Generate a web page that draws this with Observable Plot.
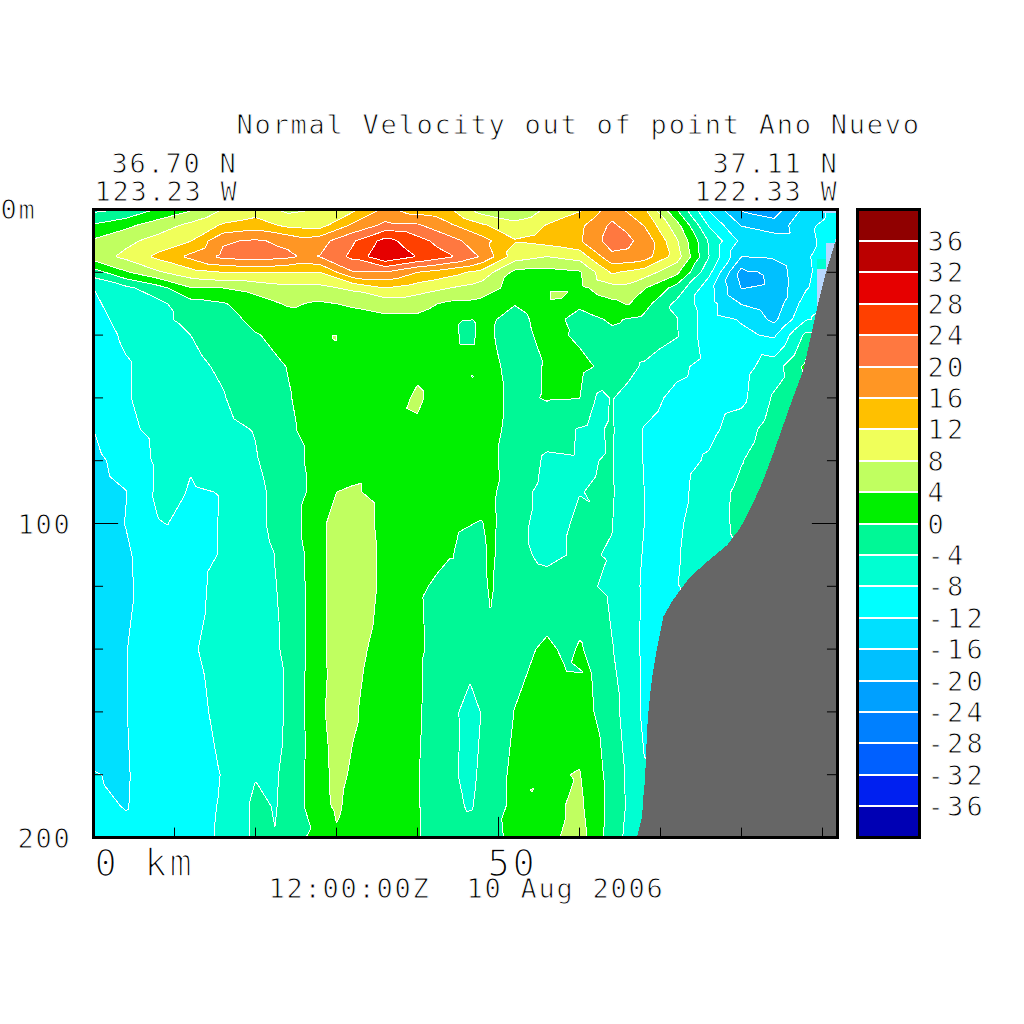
<!DOCTYPE html>
<html>
<head>
<meta charset="utf-8">
<script src="https://cdn.jsdelivr.net/npm/d3@7"></script>
<script src="https://cdn.jsdelivr.net/npm/@observablehq/plot@0.6"></script>
<style>
html,body{margin:0;padding:0;background:#fff}
#wrap{position:relative;width:1024px;height:1024px;overflow:hidden}
#wrap svg{position:absolute;left:0;top:0;background:transparent;overflow:visible}
text{font-family:"DejaVu Sans Mono",monospace}
.t18 text{letter-spacing:1.75px}
.t19 text{letter-spacing:3.2px}
.t25 text{letter-spacing:2.7px}
</style>
</head>
<body>
<div id="wrap"></div>
<script>
// Section columns (km along the section)
const km = [0,4,8,12,16,20,24,28,32,36,40,44,48,52,56,60,64,68,72,76,80,84,88,91.85];
// Velocity per depth (m), one value per km column
const r0   = [-5,-3.8,0.5,3.5,8.2,10,7,8.2,11,17,14,12.5,6,3.8,8.8,11.5,18,12.5,0,-12.5,-20.5,-22,-15,-10];
const r5   = [0.5,3,6,9,12.5,14,11,10.5,16.7,21,20.5,16.6,12.5,9.5,12.2,15,20.8,15.8,5.5,-8.5,-16.3,-18.5,-13,-10];
const r10  = [4.5,7,9.5,11.9,19.5,20.5,19,18.5,23.5,29.5,25.5,21.5,17.5,12.3,13.5,15.5,22,19,8.5,-4.5,-13,-13.5,-13.5,-9];
const r15  = [6,9,13,17,21,22,20.8,20.2,25,31.5,27.8,24.5,19.5,10,8,9.5,19,18,10,-4,-16,-15.5,-12.5,-9];
const r20  = [-2,3.5,7.5,10.5,12,12,12,12,19.7,19.8,16,13.5,10.5,3,2.5,3.5,12.5,10,5,-7,-21.5,-18.3,-12.7,-9];
const r25  = [-8,-5,-1.5,3.7,4,5.5,6.8,7,8.8,12,10,8,6,2.5,2.5,3,6.5,4.3,-1.5,-10.5,-20.2,-18.8,-12.3,-8];
const r30  = [-8.5,-6.5,-5,-1.5,-0.3,2,4.5,3.5,4.5,5.5,5.3,3.2,2.7,0.2,2.5,0.8,3,1.5,-5,-10.5,-16.2,-18.6,-10,-7];
const r35  = [-9,-7,-5,-2.8,-1.5,1,2,2.5,2.5,3.2,3.2,1.5,1.2,-1.5,1.8,-1.5,0.5,-1,-3.8,-10.5,-12.3,-17,-8.2,-7];
const r40  = [-9.5,-7.5,-6.5,-4,-2.5,-0.2,1,2,2.5,2,2,1.5,1.2,-2,1.5,-0.8,-0.8,-1.5,-3.7,-10.5,-11.3,-12.6,-3,-3];
const r50  = [-10,-8.3,-6.5,-4.8,-3.5,-1.5,0.1,1.5,2.5,2.5,3.3,2,2,-1.5,0.3,1.2,-1.5,-4.5,-7,-9.5,-9.5,-6,1,0];
const r60  = [-10.8,-8.3,-6.5,-5.5,-4.2,-2,-0.2,1.5,2.5,2.2,4.5,2,1.8,-1,0.3,0.1,-3.8,-6.5,-9,-10,-9,-3.5,0,0];
const r70  = [-12,-8.8,-7,-6,-5,-3.8,-0.5,1.5,2.5,3,3.5,2.5,1.5,-1,-2.5,-4.2,-3.7,-8.2,-10,-9,-6,-2,-1,-1];
const r80  = [-13,-10.5,-7.3,-7.6,-6,-4.3,-1.5,1.5,2.5,3,3,2,1.5,-1.5,-4.6,-4.3,-3.8,-8.2,-9.5,-7.5,-4.2,-1,0,0];
const r90  = [-13.5,-12.1,-7.2,-8.4,-7.85,-5,-2,1.5,4.4,3,2,1,1,-2.8,-5,-4.05,-3.7,-8,-9.2,-6,-3,-1,-1,-1];
const r100 = [-14,-11.9,-8.15,-9,-7.8,-5,-2,2.8,6,3,1.5,0.3,-0.1,-3.2,-5,-3.6,-3.9,-8,-8.6,-5.8,-3,-1,-1,-1];
const r110 = [-14,-12.5,-9.8,-8.9,-7.8,-5.5,-3,2.8,6,3.3,1.2,0.1,-0.8,-3.3,-4.6,-3.6,-4.2,-8.3,-8.3,-6,-4,-4,-4,-4];
const r120 = [-14.5,-12.6,-10,-8.8,-7.2,-5.5,-3.2,2.8,6,3.3,0.4,-0.8,-0.8,-2.5,-3,-3,-4.8,-8.5,-8.1,-7,-7,-7,-7,-7];
const r140 = [-14,-12.1,-10,-8.3,-7,-5.5,-3.5,2.8,5,2.8,0.6,-2,-3,-1.5,0.8,0.5,-3.8,-8.8,-9,-9,-9,-9,-9,-9];
const r160 = [-13.5,-12.1,-10,-8.5,-7.6,-5.5,-3.5,3.3,4.4,2,0.5,-3.2,-3.8,0.1,2.5,2,-2.5,-8.8,-9,-9,-9,-9,-9,-9];
const r180 = [-11.9,-12.3,-10,-9,-7.9,-4.2,-3.2,3,3.6,2,0.2,-3.4,-3.2,1,3.5,4.2,-1.5,-7.7,-8,-8,-8,-8,-8,-8];
const r190 = [-11,-12.2,-10,-8.8,-7.8,-3.2,-3,3,3,2,0.2,-3,-2.8,1,3,4.8,-1.5,-7.5,-8,-8,-8,-8,-8,-8];
const r200 = [-10.5,-10.8,-10,-8.8,-7.7,-3.2,-1.5,1.2,2.5,2,0.2,-2,-1.5,0.8,3,5.5,-2,-8,-8,-8,-8,-8,-8,-8];
const depths = [0,5,10,15,20,25,30,35,40,50,60,70,80,90,100,110,120,140,160,180,190,200];
const rows = [r0,r5,r10,r15,r20,r25,r30,r35,r40,r50,r60,r70,r80,r90,r100,r110,r120,r140,r160,r180,r190,r200];

// Extra readings where features fall between the columns
const extraKm    = [30,30,30,30,30,30,30,30,30, 26.05,26.05, 66,66, 56.8, 46.2, 46.8, 29.7, 49,49,49,49,49, 58.6,58.6, 54, 46.5,46.5,46.5,46.5,46.5, 22.4,22.4,22.4,22.4, 9.1, 11.2, 62.4,61.1,61.4, 81.1];
const extraDepth = [90,100,110,120,140,160,180,190,200, 10,15, 30,25, 27.4, 38, 53, 40.7, 100,110,120,130,90, 146,140, 185, 140,150,160,180,190, 160,180,190,200, 100, 90, 60,70,148, 22];
const extraV     = [4,6,6.2,6.2,6,5.6,4.8,4.5,3.6, 17.5,19.5, 4.3,6.8, 5.5, -1.5, -0.1, 4.2, 1,0.8,0.4,-0.1,0.9, -0.2,-0.9, 4.1, -3,-3.9,-5,-4.9,-4.4, -5,-4.3,-4.2,-3.9, -7.95, -7.9, -4.8,-4.6,0.1, -22];
const samples = rows.flatMap((r,i)=>r.map((v,j)=>({km:km[j],depth:depths[i],v})))
  .concat(extraKm.map((k,i)=>({km:k,depth:extraDepth[i],v:extraV[i]})));

// Sea floor
const floorKm    = [67.16,67.8,67.9,68.15,68.3,68.5,68.8,69.1,69.6,70.4,71.6,73.7,75.8,78.3,79.9,81.5,82.6,84,86.4,87.7,89.4,90.5,91.6,91.85];
const floorDepth = [200,193.6,188.2,181.8,172.3,161.8,154.1,147.8,140.4,129.9,124.5,117.2,112.4,107,101.6,93.6,87.3,77.7,60.2,51.3,31.5,20.1,10.8,9.2];
const floorLine = floorKm.map((k,i)=>({km:k,depth:floorDepth[i]}));

// Patches next to the sea floor
const paleKm1 = [89.4,90.5,91.6,90.0];
const paleKm2 = [90.5,91.6,91.85,91.85];
const paleTop = [19.1,10.8,9.5,0];
const paleBot = [32,32,32,1.3];
const pale = paleKm1.map((k,i)=>({x1:k,x2:paleKm2[i],y1:paleTop[i],y2:paleBot[i]}));
const spot = [{x1:89.4,x2:90.5,y1:16,y2:19.1}];

// Colour levels
const levels = [-36,-32,-28,-24,-20,-16,-12,-8,-4,0,4,8,12,16,20,24,28,32,36];
const bandColors = ["#0000b4","#0020f0","#0060ff","#0080ff","#00a0ff","#00c0ff","#00e0ff","#00ffff","#00ffd2","#00f896",
                    "#00f000","#c0ff60","#f0ff5a","#ffc000","#ff9624","#ff7840","#ff4000","#e60000","#bb0000","#900000"];
const bandEdges = [-40,...levels,40];
const bands = bandColors.map((c,i)=>({lo:bandEdges[i],hi:bandEdges[i+1]}));
const colorScale = {type:"threshold",domain:levels,range:bandColors};

// Ticks and labels
const kmTicks = [10,20,30,40,60,70,80,90];
const kmLongTicks = [50];
const depthTicks = [20,40,60,80,120,140,160,180];
const depthLongTicks = [100];
const depthLabels = ["100","200"];
const titleText = ["Normal Velocity out of point Ano Nuevo"];
const leftTop = ["36.70 N"], leftBottom = ["123.23 W"];
const rightTop = ["37.11 N"], rightBottom = ["122.33 W"];
const timeText = ["12:00:00Z  10 Aug 2006"];
const zeroText = ["0m"];

const thin = {fill:"black",stroke:"white",strokeWidth:0.9,paintOrder:"normal",lineAnchor:"bottom"};
const label = (d,o)=>Plot.text(d,{text:x=>x,fontSize:27,className:"t18",...thin,...o});
const bigLabel = (k,t,dx)=>Plot.text([t],{x:()=>k,y:()=>200,text:x=>x,fontSize:37,className:"t25",textAnchor:"start",...thin,strokeWidth:1.6,dx,dy:38});

const main = Plot.plot({
  width:1024,height:1024,
  marginLeft:93,marginRight:187,marginTop:209,marginBottom:187,
  x:{domain:[0,91.85],axis:null},
  y:{domain:[200,0],axis:null},
  color:colorScale,
  marks:[
    Plot.contour(samples,{x:"km",y:"depth",fill:"v",interpolate:"barycentric",
      thresholds:[-40,...levels],stroke:"white",strokeWidth:1,pixelSize:1,shapeRendering:"crispEdges"}),
    Plot.rect(pale,{x1:"x1",x2:"x2",y1:"y1",y2:"y2",fill:"#b8d8ff",shapeRendering:"crispEdges"}),
    Plot.rect(spot,{x1:"x1",x2:"x2",y1:"y1",y2:"y2",fill:"#00ffd2",shapeRendering:"crispEdges"}),
    Plot.areaY(floorLine,{x:"km",y1:"depth",y2:200,fill:"#666666",shapeRendering:"crispEdges"}),
    Plot.frame({stroke:"black",strokeWidth:3}),
    Plot.ruleX(kmTicks,{y1:0,y2:3,stroke:"black"}),
    Plot.ruleX(kmTicks,{y1:200,y2:197,stroke:"black"}),
    Plot.ruleX(kmLongTicks,{y1:0,y2:6.4,stroke:"black"}),
    Plot.ruleX(kmLongTicks,{y1:200,y2:193.6,stroke:"black"}),
    Plot.ruleY(depthTicks,{x1:0,x2:1.24,stroke:"black"}),
    Plot.ruleY(depthTicks,{x1:91.85,x2:90.61,stroke:"black"}),
    Plot.ruleY(depthLongTicks,{x1:0,x2:3.1,stroke:"black"}),
    Plot.ruleY(depthLongTicks,{x1:91.85,x2:88.75,stroke:"black"}),
    label(titleText,{frameAnchor:"top-left",textAnchor:"start",dx:143,dy:-76}),
    label(leftTop,{frameAnchor:"top-left",textAnchor:"start",dx:18,dy:-37}),
    label(leftBottom,{frameAnchor:"top-left",textAnchor:"start",dx:1,dy:-9}),
    label(rightTop,{frameAnchor:"top-right",textAnchor:"end",dx:1,dy:-37}),
    label(rightBottom,{frameAnchor:"top-right",textAnchor:"end",dx:1,dy:-9}),
    label(timeText,{frameAnchor:"bottom-left",textAnchor:"start",dx:175,dy:60}),
    label(zeroText,{frameAnchor:"top-left",textAnchor:"start",dx:-93,dy:9}),
    label(depthLabels,{x:()=>0,y:d=>+d,textAnchor:"start",dx:-76,dy:10}),
    bigLabel(0,"0 km",1),
    bigLabel(50,"50",-11)
  ]
});

const bar = Plot.plot({
  width:1024,height:1024,
  marginLeft:857,marginRight:105,marginTop:209,marginBottom:187,
  x:{domain:[0,1],axis:null},
  y:{domain:[-40,40],axis:null},
  color:colorScale,
  marks:[
    Plot.rect(bands,{x1:()=>0,x2:()=>1,y1:"lo",y2:"hi",fill:"lo",shapeRendering:"crispEdges"}),
    Plot.ruleY(levels,{stroke:"white",strokeWidth:2,shapeRendering:"crispEdges"}),
    Plot.frame({stroke:"black",strokeWidth:3}),
    Plot.text(levels,{x:()=>1,y:d=>d,text:d=>String(d),fontSize:27,className:"t19",textAnchor:"start",...thin,dx:8,dy:10})
  ]
});

const wrap = document.getElementById("wrap");
wrap.append(main,bar);
</script>
</body>
</html>
